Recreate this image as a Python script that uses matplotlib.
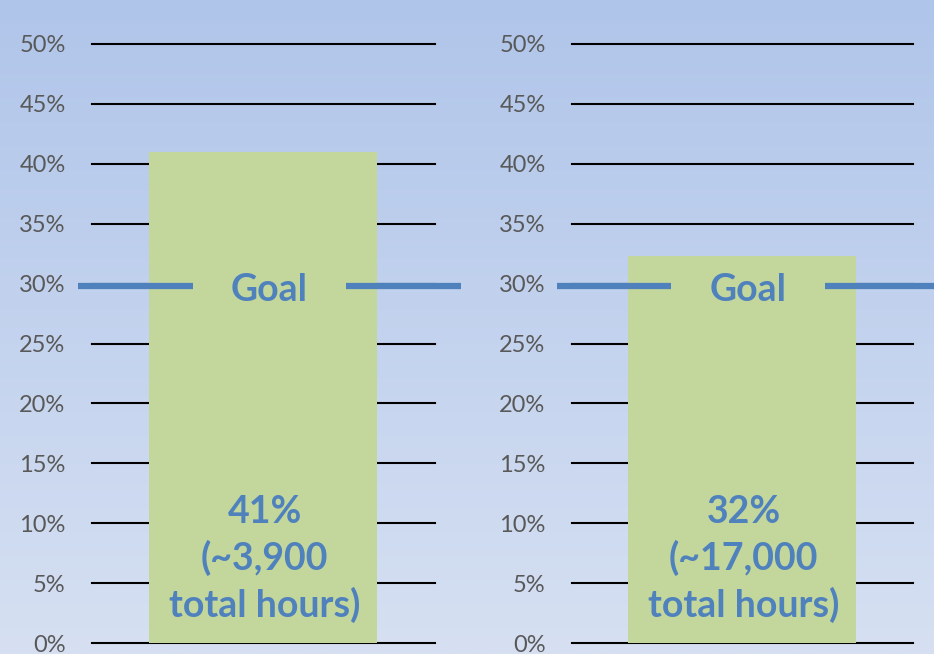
import numpy as np
import matplotlib
matplotlib.use("Agg")
import matplotlib.pyplot as plt

plt.rcParams['font.family'] = ['Lato', 'DejaVu Sans']

# Data
panels = ["Panel A", "Panel B"]
values = [41, 32.3]
bar_labels = ["41%\n(~3,900\ntotal hours)", "32%\n(~17,000\ntotal hours)"]
goal = 30
yticks = [0, 5, 10, 15, 20, 25, 30, 35, 40, 45, 50]
ytick_labels = ["0%", "5%", "10%", "15%", "20%", "25%", "30%", "35%", "40%", "45%", "50%"]

W, H = 934, 654
fig = plt.figure(figsize=(W / 100, H / 100), dpi=100)

# background gradient
bg = fig.add_axes([0, 0, 1, 1], zorder=-10)
top = np.array([176, 197, 234]) / 255
bot = np.array([214, 224, 242]) / 255
t = np.linspace(0, 1, 256)[:, None]
grad = top[None, :] * (1 - t) + bot[None, :] * t
bg.imshow(grad[:, None, :], aspect='auto', extent=[0, 1, 0, 1])
bg.axis('off')

green = "#c3d69b"
blue = "#4f81bd"

axes_specs = [(92, 343, 193, 346, 78, 461), (572, 341, 671, 825, 557, 940)]
for i, (x0, w, g0, g1, l0, l1) in enumerate(axes_specs):
    ax = fig.add_axes([x0 / W, (H - 643) / H, w / W, 599 / H])
    ax.patch.set_alpha(0)
    ax.set_xlim(0, 1)
    ax.set_ylim(0, 50)
    for y in yticks:
        ax.axhline(y, color="black", lw=1.5, clip_on=False, zorder=1)
    bx = (149 - 92) / 343 if i == 0 else (628 - 572) / 341
    bw = 228 / w
    ax.bar([bx + bw / 2], [values[i]], width=bw, color=green, zorder=2)
    ax.set_yticks(yticks)
    ax.set_yticklabels(ytick_labels, fontsize=17, color="#595959")
    ax.tick_params(axis='y', length=0, pad=19)
    ax.set_xticks([])
    for s in ax.spines.values():
        s.set_visible(False)
    # goal line with gap
    xa = lambda px: (px - x0) / w
    ax.plot([xa(l0), xa(g0)], [goal - 0.2, goal - 0.2], color=blue, lw=4.5,
            clip_on=False, zorder=3, solid_capstyle='butt')
    ax.plot([xa(g1), xa(l1)], [goal - 0.2, goal - 0.2], color=blue, lw=4.5,
            clip_on=False, zorder=3, solid_capstyle='butt')
    ax.text(xa((g0 + g1) / 2), goal - 0.55, "Goal", ha='center', va='center',
            fontsize=27, fontweight='bold', color=blue, zorder=4)
    ax.text(bx + bw / 2 + 0.005, 7.0, bar_labels[i], ha='center', va='center',
            fontsize=27, fontweight='bold', color=blue, linespacing=1.35, zorder=4)

fig.savefig("out.png", dpi=100)
